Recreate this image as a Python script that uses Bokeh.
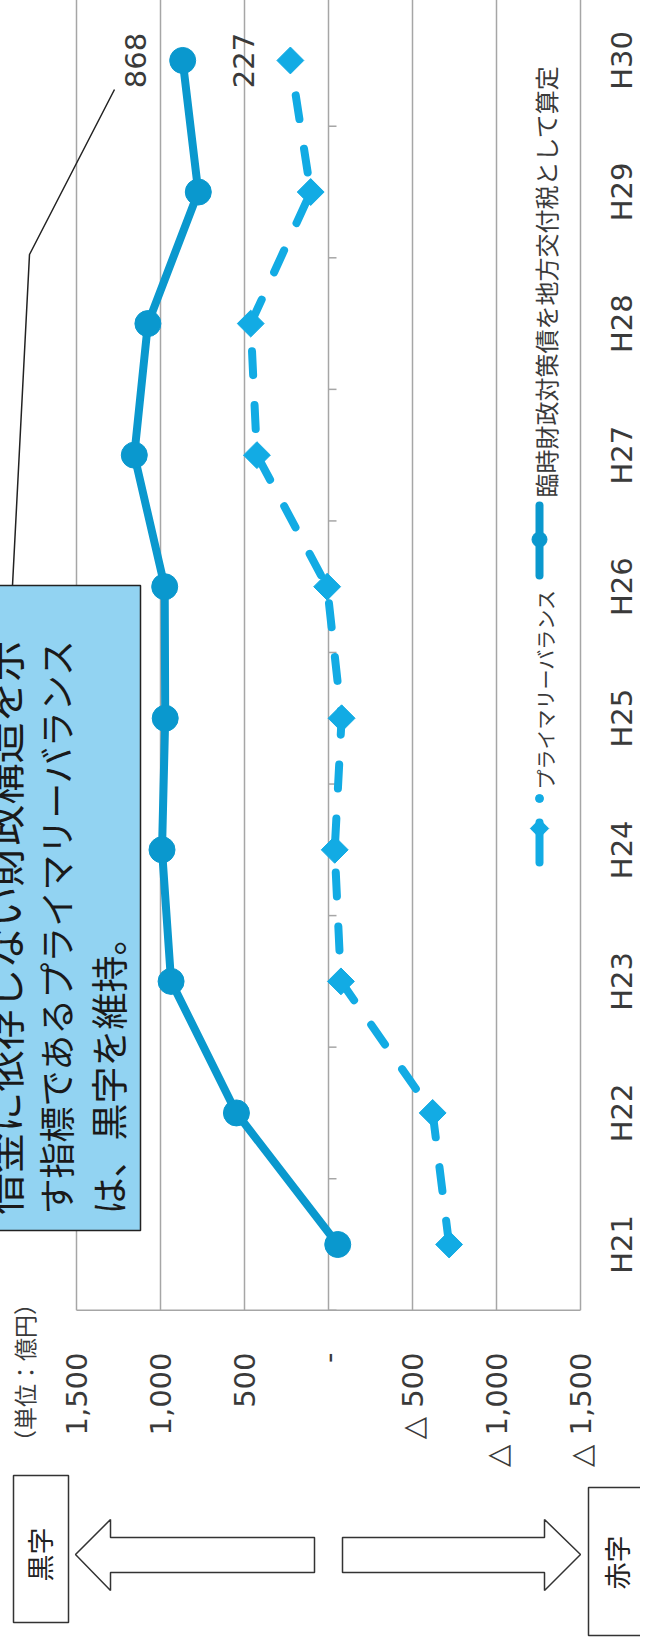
import math
from bokeh.plotting import figure
from bokeh.models import Range1d
from bokeh.core.properties import value
from bokeh.embed import file_html
from bokeh.resources import INLINE

# ---------------- data ----------------
categories = ["H21", "H22", "H23", "H24", "H25", "H26", "H27", "H28", "H29", "H30"]
rinji_values = [-55, 548, 937, 991, 972, 975, 1156, 1075, 775, 868]   # 臨時財政対策債を地方交付税として算定
pb_values = [-718, -620, -74, -37, -78, 8, 426, 463, 106, 227]         # プライマリーバランス
value_ticks = [1500, 1000, 500, 0, -500, -1000, -1500]
value_tick_labels = ["1,500", "1,000", "500", "-", "△ 500", "△ 1,000", "△ 1,500"]
series_names = ["臨時財政対策債を地方交付税として算定", "プライマリーバランス"]
annotation_lines = ["借金に依存しない財政構造を示", "す指標であるプライマリーバランス", "は、黒字を維持。"]
unit_label = "（単位：億円）"
surplus_label = "黒字"
deficit_label = "赤字"

# ---------------- layout helpers (page pixels -> data) ----------------
OFF = 0               # figure is pulled to the page corner with negative margins
W, H = 648, 1645
X0 = 336.0            # page x of value 0
KX = 84.0 / 500.0     # px per unit
YB = 1252.0           # page y of first category
DY = 131.56           # px per category


def vx(px):
    return (X0 - px) / KX


def iy(py):
    return 1 + (YB - py) / DY


SOLID = "#0A98CE"
DASH = "#12ABE4"
GRID = "#a6a6a6"
TXT = "#3a3a3a"
JP = value("Noto Sans CJK JP")
NUM = value("DejaVu Sans")
ROT = math.pi / 2

p = figure(width=W, height=H,
           x_range=Range1d(vx(OFF), vx(OFF + W)),
           y_range=Range1d(iy(OFF + H), iy(OFF)),
           x_axis_location=None, y_axis_location=None,
           toolbar_location=None, output_backend="svg",
           min_border=0, outline_line_color=None,
           background_fill_color="white", border_fill_color="white")
p.grid.visible = False
p.styles = {"margin": "-8px"}

cat_y = list(range(1, len(categories) + 1))
lo, hi = 0.5, len(categories) + 0.5

# grid lines and plot border
p.segment(x0=value_ticks, y0=[lo] * len(value_ticks), x1=value_ticks, y1=[hi] * len(value_ticks),
          line_color=GRID, line_width=1.5)
p.segment(x0=[value_ticks[0]] * 2, y0=[lo, hi], x1=[value_ticks[-1]] * 2, y1=[lo, hi],
          line_color=GRID, line_width=1.5)
# category axis (zero line) tick marks
bounds = [lo + i for i in range(len(categories) + 1)]
p.segment(x0=[0] * len(bounds), y0=bounds, x1=[vx(X0 + 8)] * len(bounds), y1=bounds,
          line_color=GRID, line_width=1.5)

# value labels
p.text(x=value_ticks, y=[iy(1360)] * len(value_ticks), text=value_tick_labels, angle=ROT,
       text_align="right", text_baseline="middle", text_font=NUM, text_font_size="29px",
       text_color=TXT)
# category labels
p.text(x=[vx(629)] * len(categories), y=cat_y, text=categories, angle=ROT,
       text_align="center", text_baseline="middle", text_font=NUM, text_font_size="29px",
       text_color=TXT)
# unit label
p.text(x=[vx(31)], y=[iy(1380)], text=[unit_label], angle=ROT, text_align="center",
       text_baseline="middle", text_font=JP, text_font_size="23px", text_color=TXT)

# series
p.line(rinji_values, cat_y, line_color=SOLID, line_width=8)
p.scatter(rinji_values, cat_y, marker="circle", size=26, fill_color=SOLID, line_color=SOLID)
p.line(pb_values, cat_y, line_color=DASH, line_width=8, line_dash="24 30", line_cap="round")
p.scatter(pb_values, cat_y, marker="square", angle=math.pi / 4, size=19,
          fill_color=DASH, line_color=DASH)

# data labels for last point
p.text(x=[rinji_values[-1], pb_values[-1]], y=[cat_y[-1]] * 2,
       text=[f"{rinji_values[-1]:,}", f"{pb_values[-1]:,}"], angle=ROT, x_offset=-47,
       text_align="center", text_baseline="middle", text_font=NUM, text_font_size="29px",
       text_color=TXT)

# callout box with leader line
p.line(x=[vx(122), vx(37), vx(20)], y=[iy(97), iy(262), iy(593)], line_color="#222222",
       line_width=1.5)
p.quad(left=[vx(-20)], right=[vx(148)], top=[iy(593)], bottom=[iy(1238)],
       fill_color="#92D3F2", line_color="#222222", line_width=1.5)
for line_text, cx, fs in zip(annotation_lines, (9, 62, 115), ("41px", "36px", "37px")):
    p.text(x=[vx(cx)], y=[iy(1222)], text=[line_text], angle=ROT,
           text_align="left", text_baseline="middle", text_font=JP, text_font_size=fs,
           text_color="#1a1a1a")

# legend (rotated, drawn by hand)
p.line(x=[vx(547)] * 2, y=[iy(583), iy(513)], line_color=SOLID, line_width=8, line_cap="round")
p.scatter(x=[vx(547)], y=[iy(547)], marker="circle", size=15, color=SOLID)
p.text(x=[vx(553)], y=[iy(505)], text=[series_names[0]], angle=ROT, text_align="left",
       text_baseline="middle", text_font=JP, text_font_size="24px", text_color=TXT)
p.line(x=[vx(547)] * 2, y=[iy(870), iy(830)], line_color=DASH, line_width=8, line_cap="round")
p.scatter(x=[vx(547)], y=[iy(836)], marker="square", angle=math.pi / 4, size=13, color=DASH)
p.scatter(x=[vx(547)], y=[iy(806)], marker="circle", size=8, color=DASH)
p.text(x=[vx(553)], y=[iy(797)], text=[series_names[1]], angle=ROT, text_align="left",
       text_baseline="middle", text_font=JP, text_font_size="20px", text_color=TXT)

# bottom arrows and boxes
left_arrow = [(83, 1562), (118, 1527), (118, 1545), (322, 1545), (322, 1580), (118, 1580), (118, 1598)]
right_arrow = [(588, 1562), (552, 1527), (552, 1545), (350, 1545), (350, 1580), (552, 1580), (552, 1598)]
for arr in (left_arrow, right_arrow):
    p.patch(x=[vx(a) for a, b in arr], y=[iy(b) for a, b in arr], fill_color="white",
            line_color="#333333", line_width=1.5)
p.quad(left=[vx(21), vx(596)], right=[vx(76), vx(660)], top=[iy(1483), iy(1495)],
       bottom=[iy(1630), iy(1643)], fill_color="white", line_color="#333333", line_width=1.5)
p.text(x=[vx(47), vx(624)], y=[iy(1562), iy(1570)], text=[surplus_label, deficit_label], angle=ROT,
       text_align="center", text_baseline="middle", text_font=JP, text_font_size="27px",
       text_color="#222222")

open("out.html", "w").write(file_html(p, INLINE))
